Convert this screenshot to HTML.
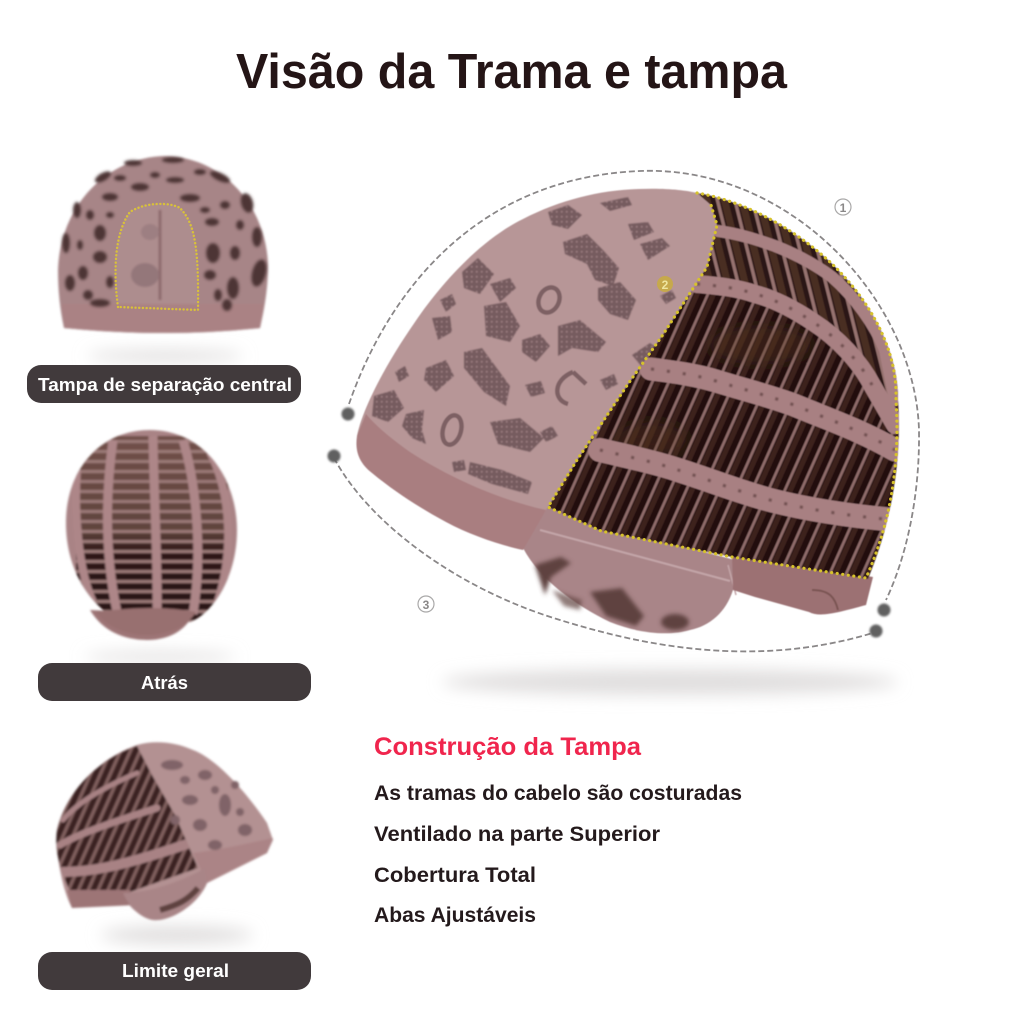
<!DOCTYPE html>
<html lang="pt"><head><meta charset="utf-8"><title>Visão da Trama e tampa</title>
<style>html,body{margin:0;padding:0;background:#fff}svg{display:block}text{font-family:"Liberation Sans",sans-serif;font-weight:700}</style></head>
<body>
<svg width="1024" height="1024" viewBox="0 0 1024 1024" xmlns="http://www.w3.org/2000/svg">
<defs>
<filter id="b05" x="-20%" y="-20%" width="140%" height="140%"><feGaussianBlur stdDeviation="0.6"/></filter>
<filter id="b1" x="-20%" y="-20%" width="140%" height="140%"><feGaussianBlur stdDeviation="1"/></filter>
<filter id="b2" x="-20%" y="-20%" width="140%" height="140%"><feGaussianBlur stdDeviation="2"/></filter>
<filter id="b4" x="-30%" y="-30%" width="160%" height="160%"><feGaussianBlur stdDeviation="5"/></filter>
<filter id="sh" x="-20%" y="-150%" width="140%" height="400%"><feGaussianBlur stdDeviation="8"/></filter>
<pattern id="ribs" width="15" height="30" patternUnits="userSpaceOnUse" patternTransform="rotate(24)"><rect width="15" height="30" fill="#241110"/><rect x="4" width="5" height="30" fill="#3d241e"/><rect x="0" width="2.8" height="30" fill="#8f6c6a"/></pattern>
<pattern id="ribs2" width="17" height="30" patternUnits="userSpaceOnUse" patternTransform="rotate(-14)"><rect width="17" height="30" fill="#2c1714"/><rect x="5" width="7" height="30" fill="#4a2d22"/><rect x="0" width="3.4" height="30" fill="#96726f"/></pattern>
<pattern id="ribs3" width="9" height="20" patternUnits="userSpaceOnUse" patternTransform="rotate(24)"><rect width="9" height="20" fill="#3a2320"/><rect x="0" width="3.2" height="20" fill="#836260"/></pattern>
<pattern id="lace" width="5" height="5" patternUnits="userSpaceOnUse"><rect width="5" height="5" fill="#765b5f"/><rect x="1" y="1" width="1.5" height="1.5" fill="#a58689"/></pattern>
<pattern id="hz" width="10" height="10" patternUnits="userSpaceOnUse"><rect width="10" height="3" fill="#9c7a78"/></pattern>
<linearGradient id="egg" x1="0" y1="0" x2="0" y2="1"><stop offset="0" stop-color="#715049"/><stop offset=".5" stop-color="#60443e"/><stop offset=".62" stop-color="#2e1815"/><stop offset="1" stop-color="#2a1513"/></linearGradient>
<clipPath id="darkClip"><path d="M697,193 C740,200 790,225 830,262 C870,300 898,350 898,400 C902,460 892,520 868,579 L732,557 L601,531 L548,507 L577,460 L628,384 L662,336 L707,267 L717,225 L711,205 Z"/></clipPath>
<clipPath id="eggClip"><path d="M150,430 C205,430 237,480 237,530 C237,580 210,615 190,622 L120,622 C90,605 65,570 66,520 C67,470 100,430 150,430 Z"/></clipPath>
<clipPath id="c3"><path d="M137,746 L152,775 L175,815 L198,868 L130,892 L72,896 C60,870 54,850 57,830 C65,795 95,760 137,746 Z"/></clipPath>
</defs>
<rect width="1024" height="1024" fill="#fff"/>

<text x="236" y="88" font-size="49" fill="#241516" textLength="551" lengthAdjust="spacingAndGlyphs">Visão da Trama e tampa</text>

<!-- shadows -->
<g filter="url(#sh)" fill="#e0dede">
<ellipse cx="670" cy="682" rx="228" ry="13"/>
<ellipse cx="165" cy="356" rx="78" ry="6"/>
<ellipse cx="160" cy="657" rx="76" ry="5"/>
<ellipse cx="177" cy="935" rx="76" ry="9"/>
</g>

<!-- MAIN CAP -->
<g filter="url(#b05)">
<!-- flap (under mesh) -->
<path d="M523,548 L545,505 L601,525 L735,560 L733,590 C726,612 710,626 690,630 C670,636 640,634 610,622 C575,605 540,580 523,548 Z" fill="#a98588"/>
<g fill="#5f4240" filter="url(#b2)">
<path d="M535,565 l26,-8 l10,6 l-20,14 l-6,18 z"/>
<path d="M590,592 l32,-4 l22,28 l-8,10 l-30,-10z"/>
<path d="M552,590 l30,10 l-2,10 l-16,-4z" opacity=".7"/>
<ellipse cx="675" cy="622" rx="14" ry="8"/>
</g>
<path d="M540,530 L730,581" stroke="#c3a5a8" stroke-width="2" fill="none"/>
<path d="M728,565 L736,595" stroke="#c3a5a8" stroke-width="1.5" fill="none"/>
<!-- right brim -->
<path d="M732,555 L873,577 L866,605 C840,612 820,618 809,612 L755,597 L733,590 Z" fill="#9c7173"/>
<path d="M812,590 C830,590 835,598 838,610" stroke="#7a5552" stroke-width="2" fill="none"/>
<!-- lace body -->
<path d="M357,436 C362,410 385,365 415,322 C440,285 480,240 523,219 C560,200 600,190 639,189 C665,188 685,190 697,193 L711,205 L717,225 L707,267 L662,336 L628,384 L577,460 L548,507 L523,546 C495,535 470,528 446,519 C420,505 400,490 388,477 C370,462 358,450 357,436 Z" fill="#b79697"/>
<g fill="url(#lace)" filter="url(#b05)">
<path d="M548,212 l20,-7 l14,10 l-14,14 l-16,-4z"/>
<path d="M600,203 l28,-6 l4,8 l-22,6z"/>
<path d="M563,242 l24,-8 l16,16 l16,18 l-6,18 l-18,-6 l-8,-16 l-22,-10z"/>
<path d="M628,224 l20,-2 l6,10 l-20,8z"/>
<path d="M640,244 l22,-6 l8,8 l-22,14z"/>
<path d="M462,272 l16,-14 l16,16 l-14,20 l-16,-6z"/>
<path d="M490,284 l20,-6 l6,10 l-16,14z"/>
<path d="M598,288 l22,-6 l16,18 l-8,20 l-18,-6 l-12,-14z"/>
<path d="M484,306 l22,-4 l14,24 l-10,16 l-24,-6z"/>
<path d="M558,326 l22,-6 l26,22 l-8,10 l-26,-4 l-14,8z"/>
<path d="M522,340 l18,-6 l10,12 l-14,16 l-14,-10z"/>
<path d="M464,352 l18,-4 l28,38 l-4,20 l-22,-14 l-20,-24z"/>
<path d="M426,368 l20,-8 l8,16 l-18,16 l-12,-12z"/>
<path d="M432,318 l18,-2 l2,16 l-14,8z"/>
<path d="M374,396 l20,-6 l10,18 l-16,14 l-16,-6z"/>
<path d="M406,414 l18,-4 l-2,20 l4,14 l-14,-6 l-10,-12z"/>
<path d="M490,422 l30,-4 l24,20 l-14,14 l-32,-8z"/>
<path d="M470,462 l32,8 l30,12 l-4,12 l-36,-10 l-24,-10z"/>
<path d="M632,355 l18,-12 l6,4 l-14,20z"/>
<path d="M440,300 l12,-6 l4,10 l-10,8z"/>
<path d="M525,385 l16,-4 l4,12 l-14,4z"/>
<path d="M600,380 l14,-6 l4,10 l-12,6z"/>
<path d="M660,296 l12,-6 l4,8 l-10,6z"/>
<path d="M395,372 l10,-6 l4,10 l-10,6z"/>
<path d="M540,432 l12,-6 l6,10 l-12,6z"/>
<path d="M452,462 l12,-2 l2,10 l-12,2z"/>
</g>
<g fill="none" stroke="#7d6164" stroke-width="4.5">
<ellipse cx="549" cy="300" rx="10" ry="13" transform="rotate(25 549 300)"/>
<path d="M573,372 C553,380 553,400 568,404 M573,372 L586,384"/>
<ellipse cx="452" cy="430" rx="9" ry="15" transform="rotate(15 452 430)"/>
</g>
<!-- brim -->
<path d="M357,436 C355,450 358,462 372,473 C395,492 420,508 446,522 C470,535 500,545 523,550 L546,510 C500,500 450,478 410,452 C390,438 374,424 366,414 Z" fill="#a97e80"/>
<!-- dark mesh -->
<g clip-path="url(#darkClip)">
<rect x="540" y="185" width="370" height="400" fill="url(#ribs)"/>
<path d="M690,190 L905,190 L905,420 L872,385 C860,362 838,338 813,322 C798,312 778,300 755,294 C738,288 720,286 697,284 Z" fill="url(#ribs2)"/>
<g fill="#5a3a24" opacity=".35" filter="url(#b4)"><ellipse cx="760" cy="345" rx="50" ry="18"/><ellipse cx="650" cy="440" rx="35" ry="16"/></g>
<g fill="none" stroke="#a88082" stroke-linecap="round">
<path d="M718,231 C740,234 758,240 775,246 C800,256 820,268 832,277 C855,297 875,325 885,350 L895,400" stroke-width="12"/>
<path d="M697,284 C720,286 738,288 755,294 C778,300 798,312 813,322 C838,338 860,362 872,385 L895,425" stroke-width="18"/>
<path d="M651,369 C675,372 696,375 716,381 C745,390 770,396 794,405 C830,420 860,430 895,450" stroke-width="23"/>
<path d="M600,450 C625,456 655,462 678,470 C710,480 745,494 774,501 C810,510 850,516 895,520" stroke-width="24"/>
</g>
<g fill="none" stroke="#6f4f50" stroke-width="3" stroke-dasharray="3 13" filter="url(#b05)">
<path d="M697,284 C720,286 738,288 755,294 C778,300 798,312 813,322 C838,338 860,362 872,385"/>
<path d="M651,369 C675,372 696,375 716,381 C745,390 770,396 794,405 C830,420 860,430 895,450"/>
<path d="M600,450 C625,456 655,462 678,470 C710,480 745,494 774,501 C810,510 850,516 895,520"/>
</g>
</g>
</g>
<path d="M697,193 C740,200 790,225 830,262 C870,300 898,350 896,400 C900,460 892,520 866,578 L732,557 L601,531 L548,507 L577,460 L628,384 L662,336 L707,267 L717,225 L711,205" fill="none" stroke="#d6c22c" stroke-width="3.2" stroke-linecap="round" stroke-dasharray="0.1 5.5"/>

<!-- dashed callout curves -->
<g fill="none" stroke="#8a8788" stroke-width="1.8" stroke-dasharray="6 3">
<path d="M349,404 C385,300 470,178 640,171 C790,165 915,300 919,430 C920,500 905,560 886,600"/>
<path d="M334,458 C370,525 460,590 560,620 C650,648 760,668 876,632"/>
</g>
<g fill="#606061" filter="url(#b1)">
<circle cx="348" cy="414" r="6.5"/><circle cx="334" cy="456" r="6.5"/><circle cx="884" cy="610" r="6.5"/><circle cx="876" cy="631" r="6.5"/>
</g>
<g fill="none" stroke="#a9a8a8" stroke-width="1.2"><circle cx="843" cy="207" r="8"/><circle cx="426" cy="604" r="8"/></g>
<text x="843" y="212" font-size="12" fill="#8a8888" text-anchor="middle">1</text>
<text x="426" y="609" font-size="12" fill="#8a8888" text-anchor="middle">3</text>
<circle cx="665" cy="284" r="8" fill="#c9ae3a" opacity=".8"/>
<text x="665" y="289" font-size="12" fill="#efe6a0" text-anchor="middle">2</text>

<!-- SMALL CAP 1 -->
<g filter="url(#b1)">
<path d="M64,328 C60,310 58,290 58,270 C60,205 108,157 165,156 C222,157 266,205 268,265 C268,290 264,310 260,328 Q165,338 64,328 Z" fill="#a78587"/>
<path d="M118,307 C113,270 115,232 130,212 C145,202 170,202 180,208 C193,222 199,240 198,310 Z" fill="#ad8d8e"/>
<path d="M160,210 L160,300" stroke="#8d6b6d" stroke-width="3"/>
<ellipse cx="145" cy="275" rx="14" ry="12" fill="#94777a"/>
<ellipse cx="150" cy="232" rx="9" ry="8" fill="#9d7f82"/>
<path d="M62,304 L264,304 L260,328 Q165,338 64,328 Z" fill="#aa8284"/>
<g fill="#4e3636" filter="url(#b1)">
<ellipse cx="103" cy="177" rx="9" ry="4" transform="rotate(-30 103 177)"/><ellipse cx="133" cy="163" rx="9" ry="3"/><ellipse cx="173" cy="160" rx="11" ry="3"/><ellipse cx="220" cy="177" rx="11" ry="4" transform="rotate(25 220 177)"/><ellipse cx="247" cy="203" rx="6" ry="10" transform="rotate(-15 247 203)"/><ellipse cx="257" cy="237" rx="5" ry="10"/><ellipse cx="259" cy="273" rx="7" ry="14" transform="rotate(15 259 273)"/><ellipse cx="233" cy="288" rx="6" ry="11"/><ellipse cx="213" cy="253" rx="7" ry="10"/><ellipse cx="66" cy="243" rx="4" ry="10"/><ellipse cx="100" cy="233" rx="6" ry="8"/><ellipse cx="100" cy="257" rx="7" ry="6"/><ellipse cx="83" cy="273" rx="5" ry="7"/><ellipse cx="70" cy="283" rx="5" ry="8"/><ellipse cx="100" cy="303" rx="10" ry="4"/><ellipse cx="140" cy="187" rx="9" ry="4"/><ellipse cx="190" cy="198" rx="10" ry="4"/><ellipse cx="110" cy="197" rx="8" ry="4"/><ellipse cx="77" cy="210" rx="4" ry="8"/><ellipse cx="227" cy="305" rx="5" ry="6"/><ellipse cx="175" cy="180" rx="9" ry="3"/><ellipse cx="212" cy="222" rx="7" ry="4"/><ellipse cx="235" cy="253" rx="5" ry="7"/><ellipse cx="90" cy="215" rx="4" ry="5"/>
<ellipse cx="120" cy="178" rx="6" ry="3"/><ellipse cx="200" cy="172" rx="6" ry="3"/><ellipse cx="155" cy="175" rx="5" ry="3"/><ellipse cx="205" cy="210" rx="5" ry="3"/><ellipse cx="225" cy="205" rx="5" ry="4"/><ellipse cx="240" cy="225" rx="4" ry="5"/><ellipse cx="210" cy="275" rx="6" ry="5"/><ellipse cx="218" cy="295" rx="4" ry="6"/><ellipse cx="88" cy="295" rx="5" ry="5"/><ellipse cx="80" cy="245" rx="3" ry="5"/><ellipse cx="110" cy="282" rx="4" ry="6"/><ellipse cx="110" cy="215" rx="4" ry="3"/></g>
</g>
<path d="M118,307 C113,270 115,232 130,212 C145,202 170,202 180,208 C193,222 199,240 198,310 Z" fill="none" stroke="#d8c13a" stroke-width="2.4" stroke-linecap="round" stroke-dasharray="0.1 3.6"/>

<!-- SMALL CAP 2 -->
<g filter="url(#b1)">
<path d="M90,610 C105,635 130,640 147,640 C170,640 185,630 193,615 Z" fill="#9d7476"/>
<path d="M150,430 C205,430 237,480 237,530 C237,580 210,615 190,622 L120,622 C90,605 65,570 66,520 C67,470 100,430 150,430 Z" fill="#a98385"/>
<g clip-path="url(#eggClip)">
<rect x="76" y="436" width="152" height="188" fill="url(#egg)"/>
<rect x="76" y="436" width="152" height="188" fill="url(#hz)"/>
<g fill="none" stroke="#ad8688" stroke-width="9">
<path d="M113,440 C106,490 104,550 117,612"/>
<path d="M153,436 C154,500 158,560 157,618"/>
<path d="M183,440 C198,490 202,560 193,614"/>
<path d="M77,470 C74,510 78,570 93,602" stroke-width="8"/>
<path d="M210,452 C234,500 232,560 217,604" stroke-width="8"/>
</g>
</g>
<path d="M96,612 Q155,604 196,612 C180,640 120,645 96,612 Z" fill="#98706f"/>
</g>

<!-- SMALL CAP 3 -->
<g filter="url(#b1)">
<path d="M137,745 C155,740 175,742 193,750 C215,758 245,790 267,823 L273,840 L267,853 L207,883 C198,905 170,922 153,920 C140,918 128,905 123,897 L72,908 C62,890 55,850 57,830 C65,795 95,760 137,745 Z" fill="#b39192"/>
<g clip-path="url(#c3)">
<rect x="50" y="740" width="160" height="170" fill="url(#ribs3)"/>
<g fill="none" stroke="#a88284" stroke-linecap="round">
<path d="M63,820 C75,805 97,790 137,773" stroke-width="5"/>
<path d="M60,845 C75,836 97,827 157,808" stroke-width="7"/>
<path d="M62,872 C90,872 120,867 190,843" stroke-width="10"/>
</g>
</g>
<path d="M67,890 L130,890 L135,905 L72,908 Z" fill="#9d7476"/>
<path d="M193,853 C220,850 250,843 273,838 L267,853 L207,883 Z" fill="#ab8486"/>
<path d="M123,893 C150,893 185,880 205,868 L207,883 C198,905 170,922 153,920 C140,918 128,905 123,893 Z" fill="#a98587"/>
<path d="M160,910 C178,905 188,900 198,888" stroke="#5f4240" stroke-width="6" fill="none"/>
<g fill="#806468" filter="url(#b05)"><ellipse cx="172" cy="765" rx="11" ry="5"/><ellipse cx="205" cy="775" rx="7" ry="5"/><ellipse cx="190" cy="800" rx="8" ry="5"/><ellipse cx="225" cy="805" rx="6" ry="11"/><ellipse cx="200" cy="825" rx="7" ry="6"/><ellipse cx="245" cy="830" rx="7" ry="6"/><ellipse cx="215" cy="845" rx="7" ry="5"/><ellipse cx="185" cy="780" rx="5" ry="4"/><ellipse cx="215" cy="790" rx="4" ry="4"/><ellipse cx="175" cy="820" rx="5" ry="5"/><ellipse cx="235" cy="785" rx="4" ry="4"/><ellipse cx="240" cy="812" rx="4" ry="4"/></g>
</g>

<!-- pills -->
<rect x="27" y="365" width="274" height="38" rx="14" fill="#413a3c"/>
<rect x="38" y="663" width="273" height="38" rx="14" fill="#413a3c"/>
<rect x="38" y="952" width="273" height="38" rx="14" fill="#413a3c"/>
<text x="38" y="391" font-size="18" fill="#fff" textLength="254" lengthAdjust="spacingAndGlyphs">Tampa de separação central</text>
<text x="141" y="689" font-size="18" fill="#fff" textLength="47" lengthAdjust="spacingAndGlyphs">Atrás</text>
<text x="122" y="977" font-size="18" fill="#fff" textLength="107" lengthAdjust="spacingAndGlyphs">Limite geral</text>

<!-- copy -->
<text x="374" y="755" font-size="25" fill="#f0254d" textLength="267" lengthAdjust="spacingAndGlyphs">Construção da Tampa</text>
<g font-size="21" fill="#241a1c">
<text x="374" y="800" textLength="368" lengthAdjust="spacingAndGlyphs">As tramas do cabelo são costuradas</text>
<text x="374" y="841" textLength="286" lengthAdjust="spacingAndGlyphs">Ventilado na parte Superior</text>
<text x="374" y="882" textLength="162" lengthAdjust="spacingAndGlyphs">Cobertura Total</text>
<text x="374" y="922" textLength="162" lengthAdjust="spacingAndGlyphs">Abas Ajustáveis</text>
</g>
</svg>
</body></html>
